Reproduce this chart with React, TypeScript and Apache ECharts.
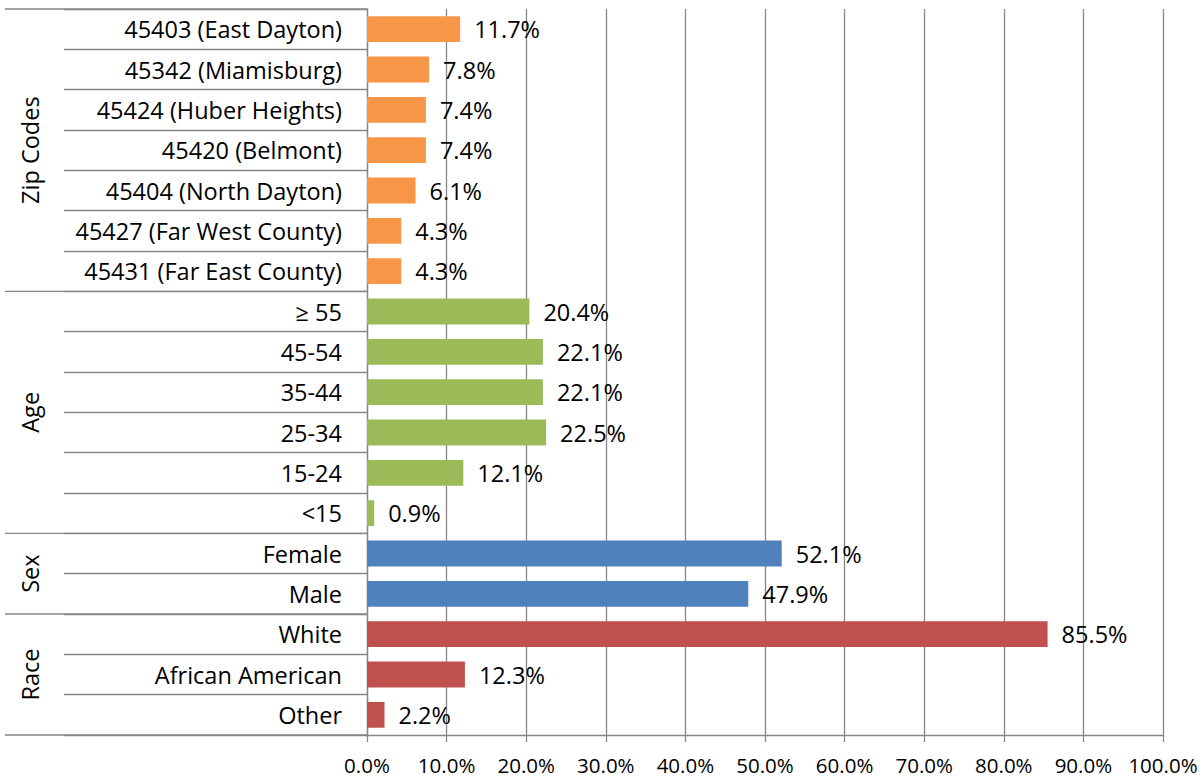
import React, { useEffect, useRef } from "react";
import * as echarts from "echarts";

const categories = [
  "45403 (East Dayton)",
  "45342 (Miamisburg)",
  "45424 (Huber Heights)",
  "45420 (Belmont)",
  "45404 (North Dayton)",
  "45427 (Far West County)",
  "45431 (Far East County)",
  "≥ 55",
  "45-54",
  "35-44",
  "25-34",
  "15-24",
  "<15",
  "Female",
  "Male",
  "White",
  "African American",
  "Other",
];

const zipValues = [11.7, 7.8, 7.4, 7.4, 6.1, 4.3, 4.3];
const ageValues = [20.4, 22.1, 22.1, 22.5, 12.1, 0.9];
const sexValues = [52.1, 47.9];
const raceValues = [85.5, 12.3, 2.2];

const groups = [
  { name: "Zip Codes", values: zipValues, color: "#F79646" },
  { name: "Age", values: ageValues, color: "#9BBB59" },
  { name: "Sex", values: sexValues, color: "#4F81BD" },
  { name: "Race", values: raceValues, color: "#C0504D" },
];

const xTicks = { min: 0, max: 100, interval: 10 };

const FONT = "Open Sans";
const FS = 23.5;
const FS_AXIS = 20.5;
const LINE = "#878787";

export default function App() {
  const ref = useRef<HTMLDivElement>(null);

  useEffect(() => {
    if (!ref.current) return;
    const chart = echarts.init(ref.current, undefined, { renderer: "svg" });

    const data: any[] = [];
    groups.forEach((g) => {
      g.values.forEach((v) => {
        data.push({ value: v, itemStyle: { color: g.color } });
      });
    });

    chart.setOption({
      animation: false,
      backgroundColor: "#ffffff",
      textStyle: { fontFamily: FONT },
      grid: { left: 367, right: 41, top: 9, bottom: 43, containLabel: false },
      xAxis: {
        type: "value",
        min: xTicks.min,
        max: xTicks.max,
        interval: xTicks.interval,
        axisLine: { show: true, lineStyle: { color: LINE, width: 1.3 } },
        axisTick: { show: true, length: 7, lineStyle: { color: LINE, width: 1.3 } },
        splitLine: { show: true, lineStyle: { color: LINE, width: 1.3 } },
        axisLabel: {
          margin: 19,
          fontSize: FS_AXIS,
          color: "#000",
          fontFamily: FONT,
          formatter: (v: number) => v.toFixed(1) + "%",
        },
      },
      yAxis: {
        type: "category",
        inverse: true,
        data: categories,
        axisLine: { show: true, lineStyle: { color: LINE, width: 1.3 } },
        axisTick: { show: true, length: 303, lineStyle: { color: LINE, width: 1.3 } },
        axisLabel: {
          margin: 25,
          fontSize: FS,
          color: "#000",
          fontFamily: FONT,
        },
      },
      series: [
        {
          type: "bar",
          data,
          barCategoryGap: "36%",
          label: {
            show: true,
            position: "right",
            distance: 14,
            fontSize: FS,
            color: "#000",
            fontFamily: FONT,
            formatter: (p: any) => Number(p.value).toFixed(1) + "%",
          },
        },
      ],
    });

    const centers = categories.map((_, i) =>
      chart.convertToPixel({ yAxisIndex: 0 }, i) as number
    );
    const band = Math.abs(centers[1] - centers[0]);
    const axisX = chart.convertToPixel({ xAxisIndex: 0 }, 0) as number;
    const graphics: any[] = [];
    let idx = 0;
    const boundaries: number[] = [centers[0] - band / 2];
    groups.forEach((g) => {
      const start = idx;
      const end = idx + g.values.length - 1;
      const yTop = centers[start] - band / 2;
      const yBot = centers[end] + band / 2;
      boundaries.push(yBot);
      graphics.push({
        type: "text",
        x: 30,
        y: (yTop + yBot) / 2,
        rotation: Math.PI / 2,
        style: {
          text: g.name,
          fontSize: FS,
          fontFamily: FONT,
          fill: "#000",
          align: "center",
          verticalAlign: "middle",
        },
      });
      idx = end + 1;
    });
    boundaries.forEach((y) => {
      graphics.push({
        type: "line",
        shape: { x1: 5, y1: y, x2: axisX, y2: y },
        style: { stroke: LINE, lineWidth: 1.3 },
      });
    });
    chart.setOption({ graphic: graphics });

    return () => chart.dispose();
  }, []);

  return (
    <div
      ref={ref}
      style={{ position: "fixed", left: 0, top: 0, width: 1204, height: 778 }}
    />
  );
}
